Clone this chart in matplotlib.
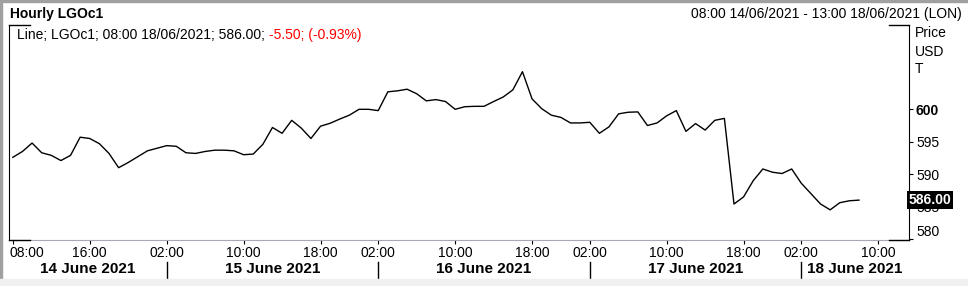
import matplotlib
matplotlib.use("Agg")
import matplotlib.pyplot as plt
import matplotlib.transforms as mtransforms
from matplotlib.patches import Rectangle
from matplotlib.lines import Line2D

plt.rcParams['font.family'] = ['Liberation Sans', 'DejaVu Sans']

# hourly closes, 08:00 14/06 -> 08:00 18/06 (no 23:00 / 00:00 bars)
hours = (list(range(8, 23)) + list(range(1, 23)) * 3 + list(range(1, 9)))
prices = [592.6, 593.5, 594.8, 593.3, 592.9, 592.1, 592.9, 595.7, 595.5, 594.7,
          593.2, 591.0, 591.8, 592.7, 593.6, 594.0, 594.4, 594.3, 593.3, 593.2,
          593.5, 593.7, 593.7, 593.6, 593.0, 593.1, 594.6, 597.2, 596.3, 598.3,
          597.1, 595.5, 597.4, 597.85, 598.5, 599.1, 600.0, 600.0, 599.8, 602.7,
          602.85, 603.1, 602.4, 601.3, 601.5, 601.2, 600.0, 600.4, 600.46, 600.46,
          601.2, 601.9, 603.0, 605.8, 601.6, 600.1, 599.1, 598.75, 597.9, 597.9,
          598.0, 596.3, 597.3, 599.3, 599.55, 599.6, 597.5, 597.9, 599.0, 599.8,
          596.6, 597.8, 596.8, 598.3, 598.6, 585.4, 586.5, 589.0, 590.8, 590.3,
          590.1, 590.8, 588.6, 587.0, 585.4, 584.5, 585.6, 585.9, 586.0]

tick_hours = ['08:00', '16:00', '02:00', '10:00', '18:00', '02:00', '10:00',
              '18:00', '02:00', '10:00', '18:00', '02:00', '10:00']
tick_idx = [0, 8, 16, 24, 32, 38, 46, 54, 60, 68, 76, 82, 90]
day_labels = ['14 June 2021', '15 June 2021', '16 June 2021', '17 June 2021', '18 June 2021']
day_breaks = [16, 38, 60, 82]
y_ticks = [580, 585, 590, 595, 600]

W, H = 968, 286
fig = plt.figure(figsize=(W / 100, H / 100), dpi=100)
L, R, T, B = 9, 909, 25, 240
ax = fig.add_axes([L / W, 1 - B / H, (R - L) / W, (B - T) / H])

x = list(range(len(prices)))
ax.plot(x, prices, color='black', lw=1.0)
xmin, xmax = -0.4, 93.2
ax.set_xlim(xmin, xmax)
ax.set_ylim(579.85, 613.0)

ax.spines['top'].set_visible(False)
ax.spines['left'].set_color('black')
ax.spines['right'].set_color('black')
ax.spines['bottom'].set_color('#a8a8b8')
# corner brackets
for (x0, x1, y0) in [(0, 0.023, 1), (0.978, 1, 1), (0, 0.023, 0), (0.978, 1, 0)]:
    ax.add_line(Line2D([x0, x1], [y0, y0], transform=ax.transAxes, color='black',
                       lw=1.0, clip_on=False, zorder=4))

ax.yaxis.tick_right()
ax.set_yticks(y_ticks)
ax.set_yticklabels([str(v) for v in y_ticks])
ax.tick_params(axis='y', direction='out', length=3, pad=2, labelsize=10)
for lab in ax.get_yticklabels():
    if lab.get_text() == '600':
        lab.set_fontweight('bold')
    if lab.get_text() == '580':
        lab.set_va('bottom')

ax.set_xticks(tick_idx)
ax.set_xticklabels(tick_hours)
ax.tick_params(axis='x', direction='out', length=3, pad=1, labelsize=10)
first = ax.get_xticklabels()[0]
first.set_ha('left')
first.set_transform(first.get_transform() +
                    mtransforms.ScaledTranslation(-3.5 / 100, 0, fig.dpi_scale_trans))

# last price box
ax.text(1.0, prices[-1], '586.00', transform=ax.get_yaxis_transform(), ha='left', va='center',
        color='white', fontweight='bold', fontsize=10, zorder=5,
        bbox=dict(boxstyle='square,pad=0.12', fc='black', ec='none'))

# day labels and separators
bounds = [xmin] + day_breaks + [xmax]
for i, d in enumerate(day_labels):
    ax.text((bounds[i] + bounds[i + 1]) / 2, -0.135, d, transform=ax.get_xaxis_transform(),
            ha='center', va='center', fontsize=11, fontweight='bold')
for b in day_breaks:
    ax.add_line(Line2D([b, b], [-0.1, -0.18], transform=ax.get_xaxis_transform(),
                       color='black', lw=1.0, clip_on=False))

fig.text(10 / W, 1 - 14 / H, 'Hourly LGOc1', fontsize=10, fontweight='bold', va='center')
fig.text(962 / W, 1 - 14 / H, '08:00 14/06/2021 - 13:00 18/06/2021 (LON)', fontsize=10,
         ha='right', va='center')
for lab, yy in [('Price', 33), ('USD', 51.5), ('T', 69)]:
    fig.text(915 / W, 1 - yy / H, lab, fontsize=10, va='center')

t1 = fig.text(17 / W, 1 - 35 / H, 'Line; LGOc1; 08:00 18/06/2021; 586.00; ', fontsize=10, va='center')
fig.canvas.draw()
bb = t1.get_window_extent()
fig.text(bb.x1 / W, 1 - 35 / H, '-5.50; (-0.93%)', fontsize=10, va='center', color='#ff0000')

# window frame
fig.patches.append(Rectangle((0, 0), 2 / W, 1, transform=fig.transFigure, color='#a0a0a0', zorder=0))
fig.patches.append(Rectangle((0, 1 - 1.5 / H), 1, 1.5 / H, transform=fig.transFigure, color='#a0a0a0', zorder=0))
fig.patches.append(Rectangle((0, 0), 1, 7 / H, transform=fig.transFigure, color='#f0f0f0', zorder=0))

fig.savefig('out.png', dpi=100)
